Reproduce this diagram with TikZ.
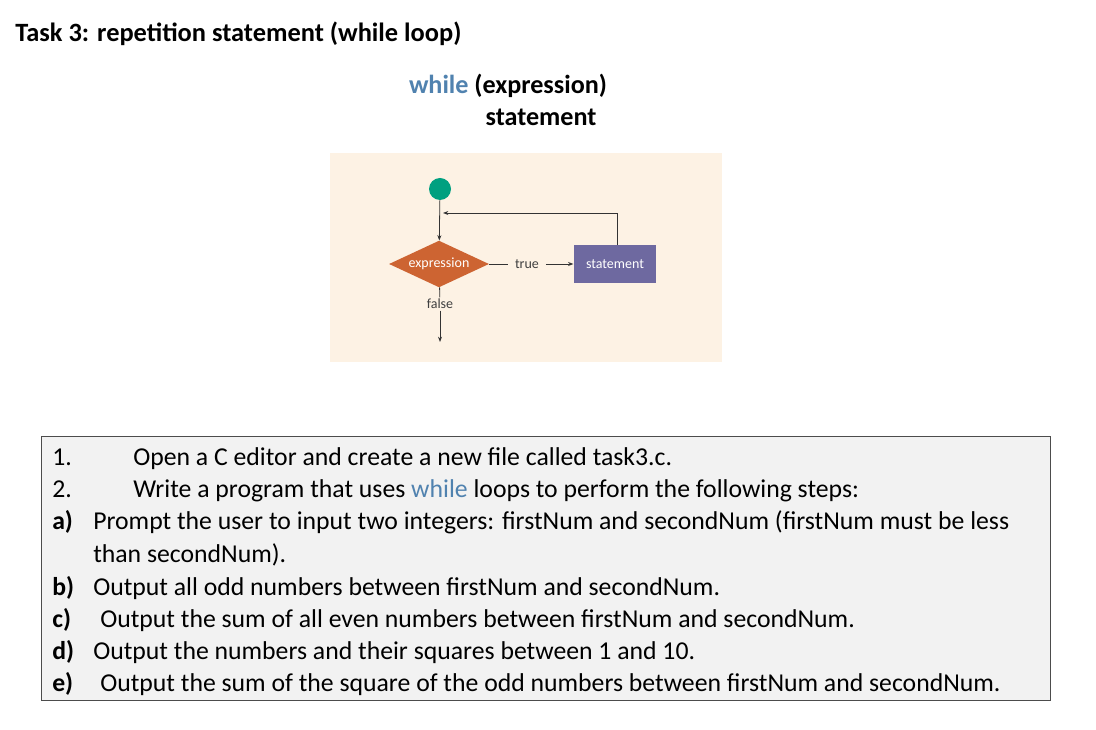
\documentclass[tikz,border=0pt]{standalone}
\usepackage{fontspec}
\setmainfont{Carlito}
\usetikzlibrary{shapes.geometric,arrows.meta}
\definecolor{kwblue}{RGB}{80,130,175}
\definecolor{bgbeige}{RGB}{253,242,228}
\definecolor{teal}{RGB}{0,160,128}
\definecolor{rust}{RGB}{205,100,50}
\definecolor{stmt}{RGB}{110,105,160}
\definecolor{boxgray}{RGB}{242,242,242}
\tikzset{
  conn/.style={draw=black!80, line width=0.6pt, -{Stealth[length=4pt,width=3pt]}},
  plain/.style={draw=black!80, line width=0.6pt},
  lbl/.style={font=\fontsize{10.5}{11}\selectfont, text=black!75, inner xsep=5pt, inner ysep=1pt},
  item/.style={anchor=base west, inner sep=0pt, font=\fontsize{19.3}{22}\selectfont},
  itemb/.style={item, font=\fontsize{19.3}{22}\selectfont\bfseries},
}
\begin{document}
\begin{tikzpicture}[x=0.75pt,y=-0.75pt]
\useasboundingbox (0,0) rectangle (1096,730);
\node[anchor=base west, inner sep=0pt, font=\fontsize{19.8}{22}\selectfont\bfseries] (title) at (15,42) {Task 3: repetition statement (while loop)};
\node[anchor=base, inner sep=0pt, font=\fontsize{19.6}{22}\selectfont\bfseries] (wh) at (508,94) {\textcolor{kwblue}{while} (expression)};
\node[anchor=base, inner sep=0pt, font=\fontsize{19.6}{22}\selectfont\bfseries] (st) at (541,126) {statement};
\fill[bgbeige] (330,153) rectangle (722,362);
\node[circle, fill=teal, minimum size=16.5pt, inner sep=0pt] (start) at (440,189) {};
\node[diamond, fill=rust, minimum width=75pt, minimum height=35pt, inner sep=0pt, aspect=2.2, text=white, font=\fontsize{10.5}{11}\selectfont] (expr) at (439,264) {expression};
\node[lbl] (true) at (527,264) {true};
\node[rectangle, fill=stmt, minimum width=62pt, minimum height=28pt, inner sep=0pt, text=white, font=\fontsize{10.5}{11}\selectfont] (stmt) at (615,264) {statement};
\node[lbl, inner xsep=1pt] (false) at (440,304) {false};
\coordinate (exitend) at (440,342);
\coordinate (loopa) at (617,213);
\coordinate (loopb) at (443,213);
\draw[conn] (start) -- (expr);
\draw[plain] (expr) -- (true);
\draw[conn] (true) -- (stmt);
\draw[plain] (expr) -- (false);
\draw[conn] (false) -- (exitend);
\draw[plain] (stmt.north -| loopa) -- (loopa);
\draw[conn] (loopa) -- (loopb);
\node[draw=black!70, fill=boxgray, line width=0.6pt, minimum width=757pt, minimum height=198pt, inner sep=0pt, anchor=north west] (box) at (41,436) {};
\node[item] (n1) at (52,466) {1.};
\node[item] (t1) at (133,466) {Open a C editor and create a new file called task3.c.};
\node[item] (n2) at (52,498) {2.};
\node[item] (t2) at (133,498) {Write a program that uses \textcolor{kwblue}{while} loops to perform the following steps:};
\node[itemb] (na) at (52,530) {a)};
\node[item] (ta) at (93,530) {Prompt the user to input two integers: firstNum and secondNum (firstNum must be less};
\node[item] (ta2) at (93,562) {than secondNum).};
\node[itemb] (nb) at (52,595) {b)};
\node[item] (tb) at (93,595) {Output all odd numbers between firstNum and secondNum.};
\node[itemb] (nc) at (52,627) {c)};
\node[item] (tc) at (100,627) {Output the sum of all even numbers between firstNum and secondNum.};
\node[itemb] (nd) at (52,659) {d)};
\node[item] (td) at (93,659) {Output the numbers and their squares between 1 and 10.};
\node[itemb] (ne) at (52,691) {e)};
\node[item] (te) at (100,691) {Output the sum of the square of the odd numbers between firstNum and secondNum.};
\end{tikzpicture}
\end{document}
